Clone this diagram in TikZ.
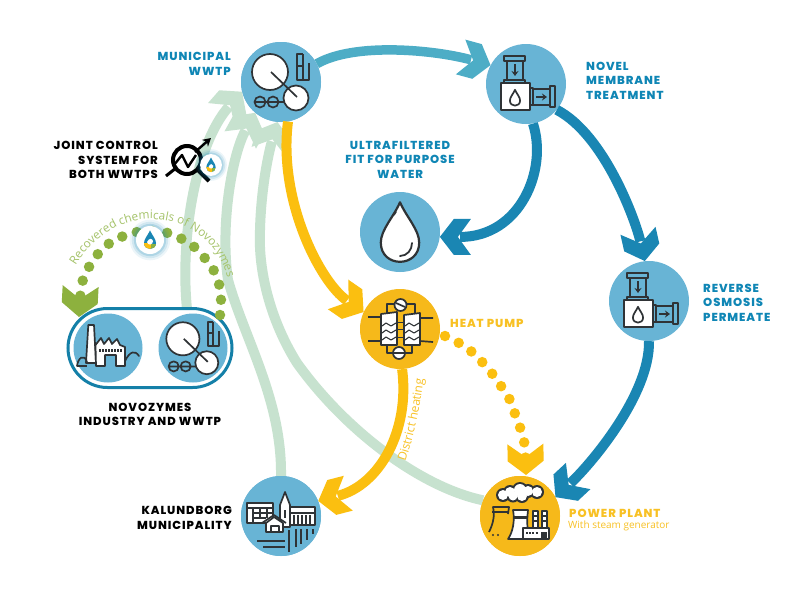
\documentclass[tikz,border=0pt]{standalone}
\usepackage{fontspec}
\setmainfont{Poppins}[BoldFont={Poppins ExtraBold},LetterSpace=8]
\newfontfamily\opn{Open Sans}
\usetikzlibrary{arrows.meta,shapes.misc,decorations.text}
\definecolor{cblue}{HTML}{68B4D5}
\definecolor{cyel}{HTML}{F6B91A}
\definecolor{lyel}{HTML}{FBBF10}
\definecolor{tyel}{HTML}{F8C124}
\definecolor{tblue}{HTML}{0F86B5}
\definecolor{lteal}{HTML}{4DADC6}
\definecolor{lblue}{HTML}{1A86B3}
\definecolor{lgreen}{HTML}{C7E2CF}
\definecolor{dgreen}{HTML}{8DB13E}
\definecolor{tgreen}{HTML}{A5C36A}
\definecolor{capb}{HTML}{1480A8}
\definecolor{ink}{HTML}{2F3336}
\makeatletter
\pgfdeclarearrow{
  name=Chev,
  parameters={\the\pgfarrowlength},
  setup code={
    \pgfarrowssettipend{0pt}
    \pgfarrowssetlineend{-0.65\pgfarrowlength}
    \pgfarrowssetbackend{-\pgfarrowlength}
    \pgfarrowssavethe\pgfarrowlength
  },
  drawing code={
    \pgfpathmoveto{\pgfqpoint{0pt}{0pt}}
    \pgfpathlineto{\pgfpoint{-0.45\pgfarrowlength}{0.58\pgfarrowlength}}
    \pgfpathlineto{\pgfpoint{-1\pgfarrowlength}{0.58\pgfarrowlength}}
    \pgfpathlineto{\pgfpoint{-0.58\pgfarrowlength}{0pt}}
    \pgfpathlineto{\pgfpoint{-1\pgfarrowlength}{-0.58\pgfarrowlength}}
    \pgfpathlineto{\pgfpoint{-0.45\pgfarrowlength}{-0.58\pgfarrowlength}}
    \pgfpathclose
    \pgfusepathqfill
  },
  defaults={length=31pt}
}
\makeatother
\def\dropP{(0,-9.6) .. controls (2,-5) and (6,-1) .. (6,3) .. controls (6,7) and (3,9) .. (0,9) .. controls (-3,9) and (-6,7) .. (-6,3) .. controls (-6,-1) and (-2,-5) .. (0,-9.6) -- cycle}
\tikzset{
  disc/.style={circle,inner sep=0pt,minimum size=80pt,fill=cblue},
  ydisc/.style={disc,fill=cyel},
  sdisc/.style={disc,minimum size=69pt},
  flow/.style={line width=#1,-{Chev},line cap=butt},
  flow/.default=10pt,
  dots/.style={line width=10.5pt,line cap=round,dash pattern=on 0pt off 15.3pt,-{Chev}},
  ttl/.style={font=\bfseries\fontsize{11.6}{14.5}\selectfont,inner sep=0pt},
  ic/.style={draw=ink,line width=1.7pt,line join=round},
  wwticon/.pic={
    \draw[ic,fill=white] (-11,-10) circle (18);
    \draw[ic,fill=white] (15,16) circle (12.5);
    \draw[ic] (-10,-10) -- (16,15);
    \draw[ic] (-21,20) circle (5.5) (-8,20) circle (5.5) (-27,20) -- (3,20);
    \draw[ic] (22,-28) -- (16,-28) -- (16,-2) -- (28,-2) -- (28,-19);
    \draw[ic] (16,-16) -- (22,-16) (22,-28) -- (22,-2);
  },
  memicon/.pic={
    \draw[ic] (-22,-28) rectangle (-1,-23);
    \draw[ic] (-19,-23) rectangle (-3,-4);
    \draw[ic] (-22,-4) rectangle (-1,-1);
    \draw[ic,fill=white] (-25,-1) rectangle (4,26);
    \draw[ic] (4,4) rectangle (7,21);
    \draw[ic] (7,5) rectangle (24,21);
    \draw[ic] (24,2) rectangle (29,23);
    \draw[ic,-{Stealth[length=5pt,width=7pt]}] (-11,-20) -- (-11,-8);
    \draw[ic,-{Stealth[length=5pt,width=7pt]}] (10,13) -- (21,13);
    \draw[ic,shift={(-11,14)},scale=0.85] \dropP;
  },
  badge/.pic={
    \foreach \r/\o in {1.45/.08,1.3/.12,1.15/.18}{\fill[tblue,opacity=\o] (0,0) circle (\r*14);}
    \fill[white] (0,0) circle (14);
    \fill[lblue] \dropP;
    \begin{scope}
      \clip \dropP;
      \fill[lyel] (-7,3) rectangle (1,10);
      \fill[dgreen] (1,4) rectangle (7,10);
    \end{scope}
    \fill[white] (-3,2) .. controls (-1,-2) and (2,-2) .. (3,1) .. controls (3,5) and (-2,6) .. (-3,2) -- cycle;
  }
}
\begin{document}
\begin{tikzpicture}[x=1pt,y=-1pt]
\useasboundingbox (0,0) rectangle (800,600);
\fill[white] (0,0) rectangle (800,600);
\node[disc]  (ww)  at (281,82)  {};
\node[disc]  (mem) at (526,84)  {};
\node[disc]  (drop) at (400,232) {};
\node[disc]  (ro)  at (649,301) {};
\node[ydisc] (hp)  at (400,329) {};
\node[ydisc] (pw)  at (520,516) {};
\node[disc]  (ka)  at (281,516) {};
\coordinate (nzout) at (187,309);
% pale green return lines
\draw[flow,lgreen] (nzout) .. controls (180,240) and (195,145) .. (ww.194);
\draw[flow,lgreen] (ka.90) .. controls (282,400) and (245,340) .. (228,280) .. controls (220,225) and (232,155) .. (ww.230);
\draw[flow,lgreen] (pw.157) .. controls (420,487) and (345,430) .. (297,363) .. controls (270,320) and (258,270) .. (260,230) .. controls (261,190) and (268,155) .. (ww.265);
% redraw discs above pale lines
\node[disc]  at (ww)  {};
\node[ydisc] at (pw)  {};
\node[disc]  at (ka)  {};
% capsule
\node[rounded rectangle,draw=capb,line width=3pt,fill=white,minimum width=164pt,minimum height=79pt,inner sep=0pt] (nz) at (150,348) {};
\node[sdisc] (nzf) at (108,348) {};
\node[sdisc] (nzw) at (193,348) {};
% main flows
\draw[flow=9.5pt,lteal] (ww.27) .. controls (355,42) and (435,50) .. (mem.152);
\draw[flow,lblue] (mem.-80) .. controls (548,170) and (520,237) .. (drop.-7);
\draw[flow,lblue] (mem.-40) .. controls (605,135) and (636,222) .. (ro.96);
\draw[flow,lblue] (ro.-90) .. controls (650,395) and (590,465) .. (pw.28);
\draw[flow,lyel] (ww.-80) .. controls (278,200) and (320,282) .. (hp.155);
\draw[flow,lyel] (hp.-87) .. controls (410,430) and (380,485) .. (ka.22);
% dotted flows
\coordinate (hpout) at (445,336);
\coordinate (pwin) at (526,475);
\draw[dots,lyel] plot[smooth] coordinates {(hpout) (459,343) (472,352) (484,364) (494,376) (503,389) (511,402) (516,417) (522,433) (525,448) (pwin)};
\coordinate (nzdot) at (220,315);
\coordinate (nzin) at (79,317);
\draw[dots,dgreen] plot[smooth] coordinates {(nzdot) (221,299) (219,284) (213,269) (203,256) (192,245) (178,237) (164,232) (148,231) (132,233) (117,239) (103,248) (93,261) (85,274) (81,289) (nzin)};
% along-path labels
\path[decorate,decoration={text along path,text color=tgreen,text align=center,text={|\opn\fontsize{11.8}{12}\selectfont|Recovered chemicals of Novozymes}}]
  (72,272) .. controls (85,245) and (115,219) .. (150,219) .. controls (190,219) and (222,245) .. (229,285);
\path[decorate,decoration={text along path,text color=tyel,text align=center,text={|\opn\fontsize{12}{12}\selectfont|District heating}}]
  (404,466) .. controls (413,440) and (420,410) .. (424,375);
% icons
\pic at (ww) {wwticon};
\pic[scale=0.92] at (nzw) {wwticon};
\pic at (mem) {memicon};
\pic at (ro) {memicon};
% large drop
\draw[ic,line width=2.2pt,fill=white,shift={(400,233)},scale=3.2] \dropP;
\draw[ic,line width=1.8pt,line cap=round] (412,243) .. controls (412,250) and (407,256) .. (400,256);
\fill[ink] (410,259) circle (1.1);
\draw[ic,line width=1.4pt,line cap=round] (396,212) -- (394,215);
% heat pump icon
\draw[ic] (387,313) -- (387,304) -- (415,304) -- (415,313);
\draw[ic] (387,345) -- (387,353) -- (412,353) -- (412,345);
\draw[ic] (368,317) -- (381,317) (368,341) -- (381,341) (420,318) -- (433,318) (420,341) -- (433,342);
\draw[ic,fill=white] (381,314) -- (397,312) -- (397,345) -- (381,345) -- cycle;
\draw[ic,fill=white] (404,315) -- (420,313) -- (420,345) -- (404,345) -- cycle;
\draw[ic,line width=1.1pt] (382,326) -- (386,323) -- (391,326) -- (396,323) (382,333) -- (386,330) -- (391,333) -- (396,330) (382,340) -- (386,337) -- (391,340) -- (396,337);
\draw[ic,line width=1.1pt] (405,326) -- (409,323) -- (414,326) -- (419,323) (405,333) -- (409,330) -- (414,333) -- (419,330) (405,340) -- (409,337) -- (414,340) -- (419,337);
\draw[ic,line width=1pt] (397,322) -- (404,322) (397,329) -- (404,329) (397,337) -- (404,337);
\draw[ic,fill=white] (400.5,305) circle (6);
\draw[ic] (396,303) -- (405,307);
\draw[ic,fill=white] (399,353) circle (6);
\draw[ic] (393,353) -- (405,353);
% power plant icon
\foreach \x/\y/\r in {503/495/5,510/492/5,520/490/6,528/491/5,537/492/5,522/496/5,513/496/4.5}{\fill[ink] (\x,\y) circle (\r+2);}
\foreach \x/\y/\r in {503/495/5,510/492/5,520/490/6,528/491/5,537/492/5,522/496/5,513/496/4.5}{\fill[white] (\x,\y) circle (\r);}
\draw[ic] (489,532) .. controls (493,524) and (495,516) .. (493,507) -- (509,507) -- (508,514);
\draw[ic] (492,512) -- (508,512);
\fill[ink] (493,535) circle (1.2) (498,535) circle (1.2);
\draw[ic,fill=white] (513,510) -- (528,510) .. controls (527,520) and (526,532) .. (532,539) -- (508,539) .. controls (513,532) and (515,520) .. (513,510) -- cycle;
\fill[ink] (513.5,516) rectangle (527.5,519);
\draw[ic,fill=white] (533,511) rectangle (538,528);
\draw[ic,fill=white] (542,511) rectangle (547,528);
\draw[ink,line width=1.4pt] (533,516) -- (538,516) (533,521) -- (538,521) (542,516) -- (547,516) (542,521) -- (547,521);
\draw[ic,fill=white] (523,528) rectangle (549,539);
\draw[ink,line width=1.2pt,dash pattern=on 2pt off 1.2pt] (526,533) -- (538,533);
\fill[ink] (541,532) rectangle (547,539);
% factory icon
\draw[ic,fill=white] (88.3,325) -- (94,325) -- (96,363) -- (86,363) -- cycle;
\draw[ic,fill=white] (95.5,345) -- (101,338) -- (104,344) -- (109,338) -- (112,344) -- (117,339) -- (120,345) -- (125,347) -- (125,366) -- (116,366) -- (116,355) -- (105,355) -- (105,366) -- (96,366) -- cycle;
\draw[ink,line width=3pt,dash pattern=on 1.5pt off 1.5pt] (99,350) -- (122,350);
\draw[ic,line cap=round] (77,366) .. controls (78,358) and (84,353) .. (87,362);
\draw[ic,line cap=round] (125,361) .. controls (130,351) and (135,350) .. (139,356);
\draw[ic] (77,366) -- (87,366);
% Kalundborg icon
\draw[ic,fill=white] (247,503) rectangle (273,523);
\draw[ic] (247,508) -- (273,508) (253,513) -- (273,513) (253,518) -- (266,518) (253,508) -- (253,523) (260,508) -- (260,518) (267,508) -- (267,518);
\draw[ic,fill=white] (290,507) rectangle (315,525);
\draw[ink,line width=1.3pt] (290,513) -- (315,513);
\foreach \x in {294,298,302,306,310}{\draw[ink,line width=1.6pt] (\x,515) -- (\x,524);}
\draw[ic,fill=white] (280,505) -- (285,492) -- (290,505) -- (290,527) -- (280,527) -- cycle;
\fill[ink] (284,510) rectangle (286,518);
\draw[ic,fill=white] (266,523) -- (274,517) -- (283,523) -- (283,532) -- (266,532) -- cycle;
\draw[ic] (262,523) -- (274,515) -- (286,523);
\draw[ic] (271,526) rectangle (279,532);
\draw[ic] (257,541) -- (285,541) (263,547) -- (285,547);
\foreach \x/\a/\b in {289/530/552,296/529/547,301/529/544,307/529/540,313/529/534}{\draw[ic] (\x,\a) -- (\x,\b);}
% joint control icon
\draw[black,line width=4pt] (187,160) circle (14);
\draw[black,line width=3pt] (166,176) -- (176,168);
\draw[black,line width=4pt] (198,170) -- (209,181);
\draw[black,line width=2.4pt,line join=round] (174,165) -- (182,155) -- (188,167) -- (196,155);
\draw[black,line width=2.4pt,-{Stealth[length=8pt,width=9pt]}] (195,152) -- (211,138);
% badges
\pic[scale=0.78] at (211,165) {badge};
\pic at (150,240) {badge};
% labels
\node[ttl,text=tblue,align=right,anchor=east] (l1) at (231,64) {MUNICIPAL\\WWTP};
\node[ttl,text=tblue,align=left,anchor=west] (l2) at (586,80.5) {NOVEL\\MEMBRANE\\TREATMENT};
\node[ttl,text=tblue,align=center] (l3) at (400,159.5) {ULTRAFILTERED\\FIT FOR PURPOSE\\WATER};
\node[ttl,text=tblue,align=left,anchor=west] (l4) at (703,302.5) {REVERSE\\OSMOSIS\\PERMEATE};
\node[ttl,text=black,align=right,anchor=east] (l5) at (158,160) {JOINT CONTROL\\SYSTEM FOR\\BOTH WWTPS};
\node[ttl,text=black,align=center] (l6) at (150,414.5) {NOVOZYMES\\INDUSTRY AND WWTP};
\node[ttl,text=black,align=right,anchor=east] (l7) at (232,518) {KALUNDBORG\\MUNICIPALITY};
\node[ttl,text=tyel,anchor=west] (l8) at (450,323) {HEAT PUMP};
\node[ttl,text=tyel,anchor=west] (l9) at (569,513) {POWER PLANT};
\node[text=tyel,anchor=west,inner sep=0pt,font=\opn\fontsize{10}{11}\selectfont] (l10) at (568,526) {With steam generator};
\end{tikzpicture}
\end{document}
